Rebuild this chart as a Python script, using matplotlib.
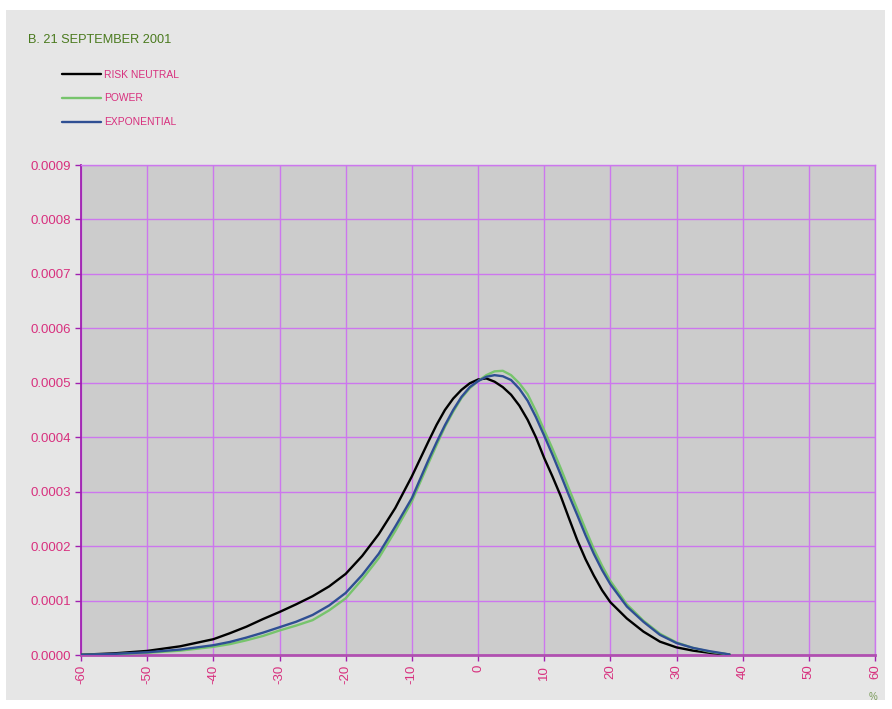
import matplotlib
matplotlib.use("Agg")
import matplotlib.pyplot as plt
from matplotlib.patches import Rectangle
from matplotlib.ticker import FixedLocator, FuncFormatter

plt.rcParams['font.family'] = ['Liberation Sans', 'DejaVu Sans']

# ---- data ----
x = [-60, -55, -50, -45, -40, -37.5, -35, -32.5, -30, -27.5, -25, -22.5, -20, -17.5,
     -15, -12.5, -10, -8.75, -7.5, -6.25, -5, -3.75, -2.5, -1.25, 0, 1.25, 2.5, 3.75,
     5, 6.25, 7.5, 8.75, 10, 11.25, 12.5, 13.75, 15, 16.25, 17.5, 18.75, 20, 22.5, 25,
     27.5, 30, 32.5, 35, 38]
risk_neutral = [0.0000005, 0.000003, 0.0000075, 0.000016, 0.000029, 0.000040, 0.000052,
                0.000066, 0.000079, 0.000093, 0.000108, 0.000126, 0.000149, 0.000182,
                0.000222, 0.000270, 0.000328, 0.000360, 0.000392, 0.000423, 0.000450,
                0.000471, 0.000487, 0.000499, 0.000506, 0.000508, 0.000502, 0.000492,
                0.000478, 0.000458, 0.000432, 0.000400, 0.000362, 0.000328, 0.000292,
                0.000251, 0.000211, 0.000176, 0.000146, 0.000119, 0.000097, 0.000067,
                0.000043, 0.0000245, 0.000014, 0.000008, 0.000004, 0.000001]
power = [0.0000002, 0.0000015, 0.000004, 0.000008, 0.000015, 0.000020, 0.000027,
         0.000035, 0.000045, 0.000054, 0.000064, 0.000082, 0.000104, 0.000139,
         0.000178, 0.000228, 0.000282, 0.000317, 0.000352, 0.000386, 0.000419,
         0.000447, 0.000472, 0.000490, 0.000503, 0.000514, 0.000521, 0.000522,
         0.000514, 0.000499, 0.000479, 0.000448, 0.000413, 0.000379, 0.000343,
         0.000305, 0.000268, 0.000231, 0.000195, 0.000164, 0.000136, 0.000093,
         0.000063, 0.000039, 0.000023, 0.000013, 0.000006, 0.000001]
exponential = [0.0000003, 0.000002, 0.000005, 0.000010, 0.000018, 0.000024, 0.000032,
               0.000041, 0.000051, 0.000061, 0.0000735, 0.000091, 0.000114, 0.000147,
               0.000186, 0.000236, 0.000288, 0.000323, 0.000358, 0.000391, 0.000422,
               0.000450, 0.000474, 0.000492, 0.000503, 0.000511, 0.000514, 0.000512,
               0.000505, 0.000489, 0.000467, 0.000437, 0.000403, 0.000368, 0.000331,
               0.000293, 0.000257, 0.000220, 0.000186, 0.000156, 0.000130, 0.000089,
               0.000061, 0.000037, 0.000022, 0.000013, 0.000007, 0.000001]
x_ticks = list(range(-60, 61, 10))
y_ticks = [i * 0.0001 for i in range(10)]
title = "B. 21 SEPTEMBER 2001"
labels = ["RISK NEUTRAL", "POWER", "EXPONENTIAL"]

# ---- styling ----
W, H = 892, 709
fig = plt.figure(figsize=(W / 100, H / 100), dpi=100, facecolor="white")
fig.patches.append(Rectangle((6 / W, 9 / H), 879 / W, 690 / H, transform=fig.transFigure,
                             facecolor="#e6e6e6", edgecolor="none", zorder=-10))

ax = fig.add_axes([81 / W, 54 / H, 794 / W, 490 / H])
ax.set_facecolor("#cccccc")

pink = "#d8307e"
grid_c = "#cc77ee"

kw = dict(lw=1.7, solid_joinstyle="round", solid_capstyle="round")
ax.plot(x, risk_neutral, color="black", label=labels[0], zorder=3, **kw)
ax.plot(x, power, color="#77c46c", label=labels[1], zorder=3, **kw)
ax.plot(x, exponential, color="#2f4f93", label=labels[2], zorder=4, **kw)

ax.set_xlim(-60, 60)
ax.set_ylim(0, 0.0009)
ax.xaxis.set_major_locator(FixedLocator(x_ticks))
ax.yaxis.set_major_locator(FixedLocator(y_ticks))
ax.yaxis.set_major_formatter(FuncFormatter(lambda v, p: f"{v:.4f}"))
ax.xaxis.set_major_formatter(FuncFormatter(lambda v, p: f"{int(round(v))}"))
ax.grid(True, color=grid_c, lw=1.0, zorder=1)
ax.set_axisbelow(True)
for s in ["top", "right"]:
    ax.spines[s].set_color(grid_c)
    ax.spines[s].set_linewidth(1.0)
ax.spines["left"].set_color("#a020b0")
ax.spines["left"].set_linewidth(1.3)
ax.spines["bottom"].set_color("#b050b0")
ax.spines["bottom"].set_linewidth(2.0)
ax.tick_params(axis="both", colors="#a020b0", length=4, width=1.0, labelcolor=pink,
               labelsize=9.5)
ax.tick_params(axis="x", labelrotation=90, pad=3)
ax.tick_params(axis="y", pad=3)

fig.text(28 / W, 1 - 40 / H, title, color="#4a7a1e", fontsize=9.2, va="center", ha="left")
fig.text(873 / W, 1 - 697 / H, "%", color="#7a9a5a", fontsize=7, va="center", ha="center")

leg = fig.legend(loc="upper left", bbox_to_anchor=(62 / W, 1 - 69.5 / H), frameon=False,
                 fontsize=7.4, labelcolor=pink, handlelength=3.8, handletextpad=0.3,
                 labelspacing=1.35, borderaxespad=0, borderpad=0)

fig.savefig("out.png", dpi=100, facecolor="white")
